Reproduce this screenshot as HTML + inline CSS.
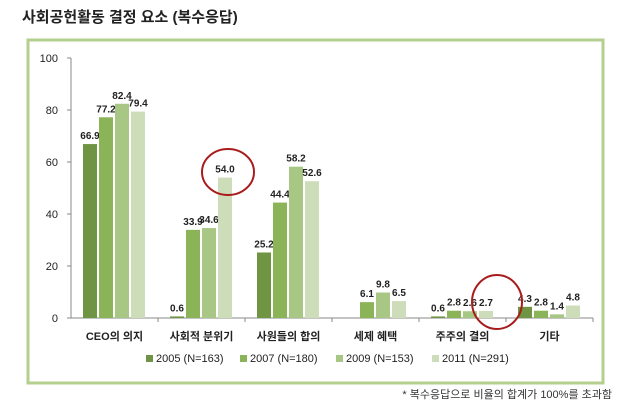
<!DOCTYPE html>
<html><head><meta charset="utf-8"><style>
body{margin:0;background:#fff;width:640px;height:408px;overflow:hidden;font-family:"Liberation Sans","Noto Sans CJK KR",sans-serif}
</style></head><body>
<svg width="640" height="408">
<text x="22" y="22" font-size="15" font-weight="bold" fill="#222" font-family="Liberation Sans, Noto Sans CJK KR, sans-serif">사회공헌활동 결정 요소 (복수응답)</text>
<rect x="28" y="40" width="575" height="343" fill="#fff" stroke="#b5cf8e" stroke-width="3"/>
<g id="plot"></g>
<ellipse cx="228" cy="172" rx="26" ry="23" fill="none" stroke="#a81c1c" stroke-width="2"/>
<ellipse cx="497" cy="302" rx="25" ry="27" fill="none" stroke="#a81c1c" stroke-width="2"/>
<text x="612" y="398" font-size="11" text-anchor="end" fill="#333" font-family="Liberation Sans, Noto Sans CJK KR, sans-serif">* 복수응답으로 비율의 합계가 100%를 초과함</text>
</svg>
<script>
const categories=["CEO의 의지","사회적 분위기","사원들의 합의","세제 혜택","주주의 결의","기타"];
const s2005=[66.9,0.6,25.2,null,0.6,4.3];
const s2007=[77.2,33.9,44.4,6.1,2.8,2.8];
const s2009=[82.4,34.6,58.2,9.8,2.6,1.4];
const s2011=[79.4,54.0,52.6,6.5,2.7,4.8];
const seriesNames=["2005 (N=163)","2007 (N=180)","2009 (N=153)","2011 (N=291)"];
const yTicks=[0,20,40,60,80,100];
const colors=["#6f9443","#8bb357","#a8c784","#cddcb9"];
const NS="http://www.w3.org/2000/svg";
const g=document.getElementById('plot');
const x0=71,x1=593,y0=318,y1=58;
const catW=(x1-x0)/categories.length;
const y=v=>y0-(v/100)*(y0-y1);
function mk(t,a,txt){const e=document.createElementNS(NS,t);for(const k in a)e.setAttribute(k,a[k]);if(txt!=null)e.textContent=txt;g.appendChild(e);return e;}
let e=mk('line',{x1:x0,y1:y0,x2:x0,y2:y1,stroke:'#888'});


e=mk('line',{x1:x0,y1:y0,x2:x1,y2:y0,stroke:'#888'});


yTicks.forEach(t=>{
 mk('line',{x1:x0-4,y1:y(t),x2:x0,y2:y(t),stroke:'#888'});
 const l=mk('text',{x:x0-13,y:y(t)+4,'font-size':11,'text-anchor':'end',fill:'#222'},t);
 
 
});
const series=[s2005,s2007,s2009,s2011];
categories.forEach((c,i)=>{
 const cx=x0+i*catW;
 mk('line',{x1:cx+catW,y1:y0,x2:cx+catW,y2:y0+4,stroke:'#888'});
 const l=mk('text',{x:cx+catW/2,y:y0+22,'font-size':11,'font-weight':'bold','text-anchor':'middle',fill:'#222'},c);
 
 
 series.forEach((s,j)=>{
  const v=s[i]; if(v==null)return;
  const bx=cx+12+j*16;
  const r=mk('rect',{x:bx,y:y(v),width:14,height:y0-y(v),fill:colors[j]});
  
  
  const t=mk('text',{x:bx+7,y:y(v)-5,'font-size':10,'font-weight':'bold','text-anchor':'middle',fill:'#222'},v.toFixed(1));
  
  
 });
});
const lx=[146,240,336,432];
seriesNames.forEach((n,j)=>{
 const r=mk('rect',{x:lx[j],y:355,width:7,height:7,fill:colors[j]});
 
 
 const t=mk('text',{x:lx[j]+10,y:362,'font-size':11,fill:'#222'},n);
 
 
});
</script>
</body></html>
